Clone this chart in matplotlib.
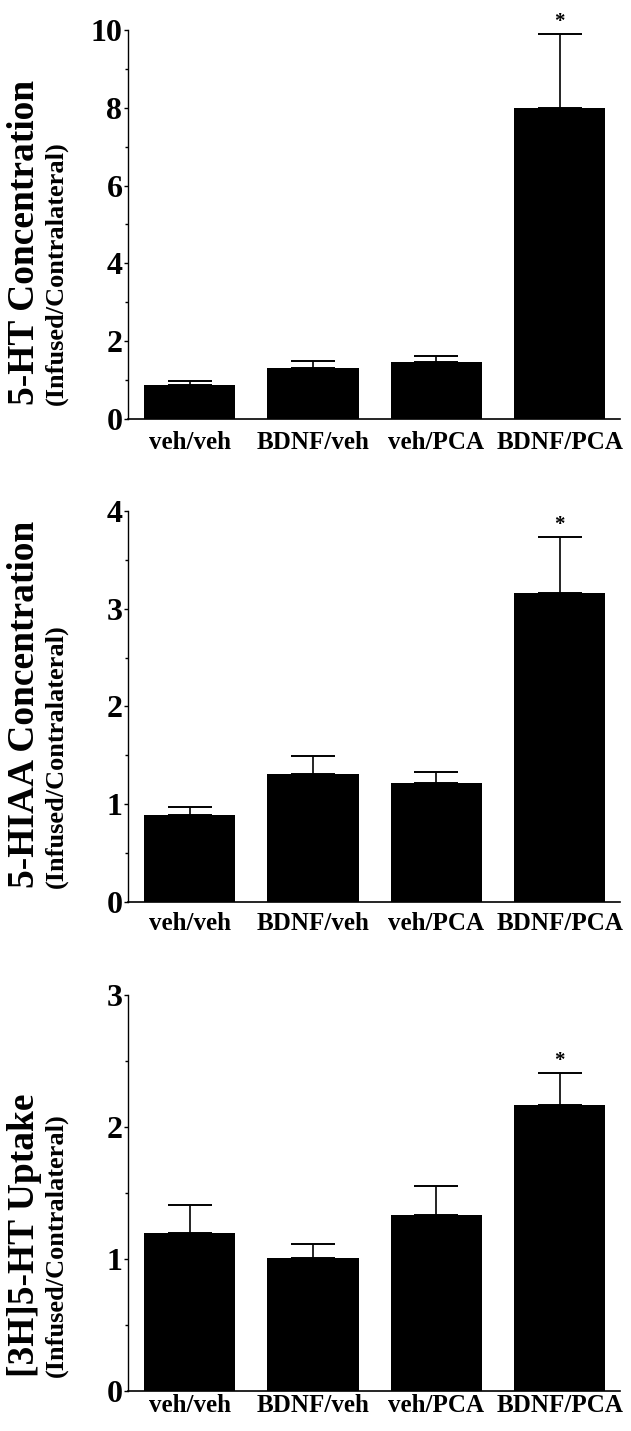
import matplotlib
matplotlib.use("Agg")
import matplotlib.pyplot as plt
from matplotlib.ticker import MultipleLocator

plt.rcParams['font.family'] = ['Liberation Serif', 'DejaVu Serif']
plt.rcParams['font.weight'] = 'bold'

groups = ['veh/veh', 'BDNF/veh', 'veh/PCA', 'BDNF/PCA']

# bar heights and upper error (SEM)
ht_mean = [0.88, 1.31, 1.46, 8.00]
ht_err = [0.10, 0.19, 0.15, 1.90]

hiaa_mean = [0.89, 1.31, 1.22, 3.16]
hiaa_err = [0.08, 0.18, 0.11, 0.57]

uptake_mean = [1.20, 1.01, 1.33, 2.17]
uptake_err = [0.21, 0.10, 0.22, 0.24]

signif = ['', '', '', '*']

W, H = 631, 1431

# (mean, err, title, ymax, major, minor, axis top px, axis bottom px, xlabel pad)
panels = [
    (ht_mean, ht_err, '5-HT Concentration', 10, 2, 1, 30, 419, 9),
    (hiaa_mean, hiaa_err, '5-HIAA Concentration', 4, 1, 0.5, 511, 902, 7),
    (uptake_mean, uptake_err, '[3H]5-HT Uptake', 3, 1, 0.5, 995, 1391, 2),
]

fig = plt.figure(figsize=(W / 100, H / 100), dpi=100)

for mean, err, title, ymax, major, minor, top, bot, pad in panels:
    ax = fig.add_axes([128 / W, 1 - bot / H, 492 / W, (bot - top) / H])
    x = range(len(groups))
    ax.bar(x, mean, width=0.74, color='black', zorder=2)
    ax.errorbar(x, mean, yerr=[[0] * len(err), err], fmt='none', ecolor='black',
                elinewidth=1.2, capsize=16, capthick=1.4, zorder=1)
    for i, (m, e) in enumerate(zip(mean, err)):
        if signif[i]:
            ax.annotate(signif[i], (i, m + e), xytext=(0, 5), textcoords='offset points',
                        ha='center', va='baseline', fontsize=15, fontweight='bold',
                        annotation_clip=False)
    ax.set_xlim(-0.5, 3.49)
    ax.set_ylim(0, ymax)
    ax.yaxis.set_major_locator(MultipleLocator(major))
    ax.yaxis.set_minor_locator(MultipleLocator(minor))
    ax.set_xticks(list(x))
    ax.set_xticklabels(groups, fontsize=18, fontweight='bold')
    ax.tick_params(axis='x', length=0, pad=pad)
    ax.tick_params(axis='y', which='major', length=3, width=1, labelsize=23, pad=1)
    ax.tick_params(axis='y', which='minor', length=2, width=1)
    for lbl in ax.get_yticklabels():
        lbl.set_fontweight('bold')
    ax.spines['top'].set_visible(False)
    ax.spines['right'].set_visible(False)
    ax.spines['left'].set_linewidth(1.0)
    ax.spines['bottom'].set_linewidth(1.2)

    ystart = 1 - (bot - 14) / H
    fig.text(25 / W, ystart, title, rotation=90, rotation_mode='anchor',
             ha='left', va='center', fontsize=27, fontweight='bold')
    fig.text(56 / W, ystart, '(Infused/Contralateral)', rotation=90, rotation_mode='anchor',
             ha='left', va='center', fontsize=19, fontweight='bold')

fig.savefig('out.png', dpi=100)
